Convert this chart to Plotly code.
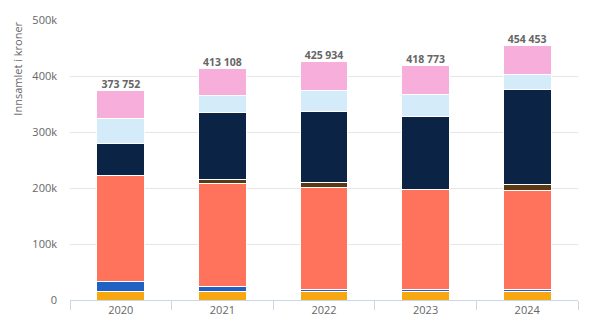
import plotly.graph_objects as go

years = ["2020", "2021", "2022", "2023", "2024"]

# Collected amounts (NOK) per category, stacked bottom to top
orange = [16000, 15000, 15000, 15000, 15000]
blue = [17000, 9000, 3000, 3000, 3000]
coral = [190000, 184500, 183000, 180000, 178000]
brown = [0, 7000, 9000, 0, 10000]
navy = [57000, 118500, 126000, 130500, 170000]
lightblue = [44000, 32000, 38500, 38500, 27000]
pink = [49752, 47108, 51434, 51773, 51453]

series = [
    ("Kategori 1", orange, "#F7A70F"),
    ("Kategori 2", blue, "#1F62C4"),
    ("Kategori 3", coral, "#FF735C"),
    ("Kategori 4", brown, "#5A3A12"),
    ("Kategori 5", navy, "#0B2345"),
    ("Kategori 6", lightblue, "#D4EBF9"),
    ("Kategori 7", pink, "#F8AEDB"),
]

totals = [sum(v) for v in zip(orange, blue, coral, brown, navy, lightblue, pink)]
total_labels = [f"<b>{t:,}</b>".replace(",", " ") for t in totals]

fig = go.Figure()
for name, vals, color in series:
    fig.add_trace(go.Bar(
        x=years, y=vals, name=name,
        marker=dict(color=color, line=dict(color="white", width=1)),
    ))

fig.add_trace(go.Scatter(
    x=years, y=totals, mode="text", text=total_labels,
    textposition="top center",
    textfont=dict(size=10.5, color="#666666", family="Open Sans"),
    showlegend=False, hoverinfo="skip", cliponaxis=False,
))

fig.update_layout(
    barmode="stack",
    bargap=0.53,
    width=590, height=332,
    margin=dict(l=70, r=12, t=16, b=32),
    paper_bgcolor="white", plot_bgcolor="white",
    showlegend=False,
    font=dict(family="Open Sans", color="#666666", size=11),
)

# Axis title sits at the top of the value axis
fig.add_annotation(
    text="Innsamlet i kroner", textangle=-90,
    xref="paper", yref="paper", x=-0.105, y=1.0,
    xanchor="center", yanchor="top", showarrow=False,
    font=dict(size=11, color="#666666"),
)

fig.update_xaxes(
    type="category",
    showline=True, linecolor="#ccd6eb", linewidth=1,
    ticks="outside", tickson="boundaries", ticklen=9, tickcolor="#ccd6eb",
    showgrid=False,
    tickfont=dict(size=11, color="#666666"),
)

fig.update_yaxes(
    range=[0, 500000],
    tickvals=[0, 100000, 200000, 300000, 400000, 500000],
    ticktext=["0", "100k", "200k", "300k", "400k", "500k"],
    showgrid=True, gridcolor="#e6e6e6", gridwidth=1,
    zeroline=False, showline=False,
    ticklabelstandoff=12,
    tickfont=dict(size=11, color="#666666"),
)

fig.write_html("out.html")
